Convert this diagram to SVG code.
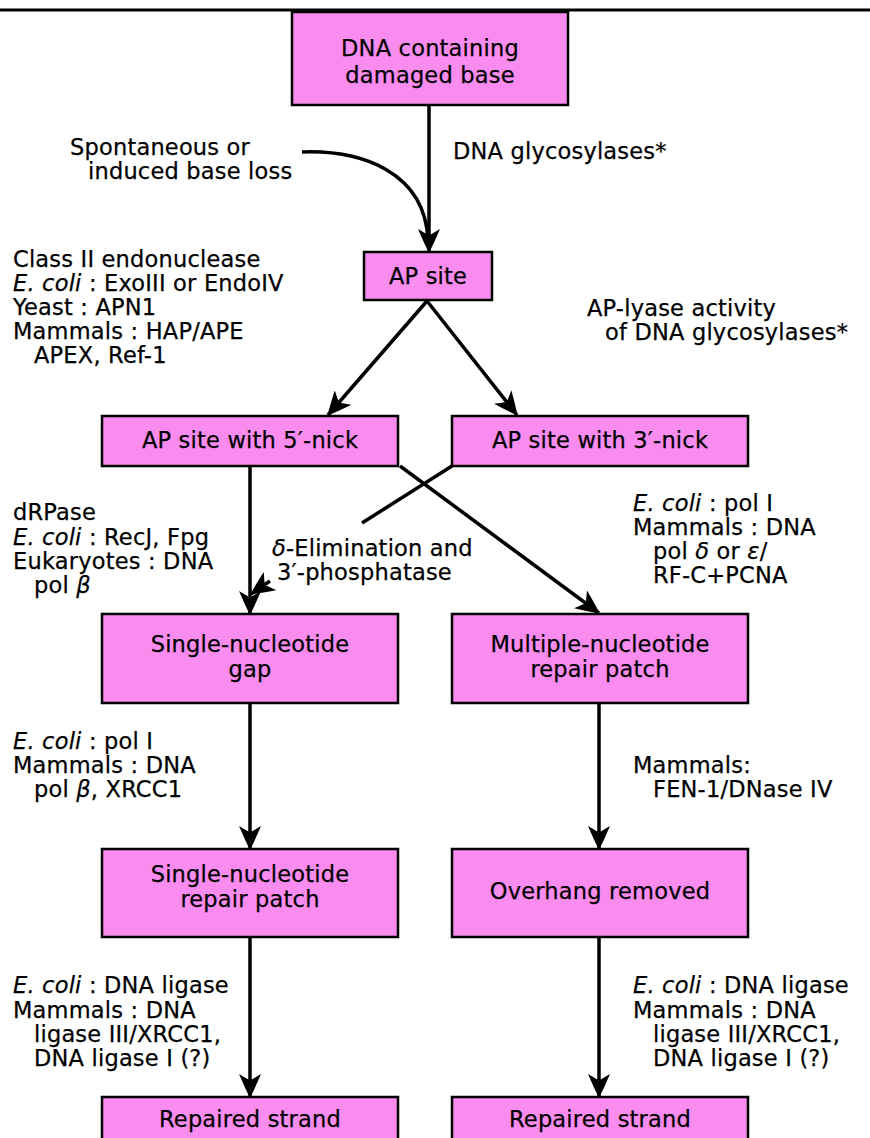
<svg xmlns="http://www.w3.org/2000/svg" width="870" height="1138" viewBox="0 0 870 1138">
<defs>
<style>
.box{fill:#FA8CF0;stroke:#000;stroke-width:2.5}
.t{font-family:"DejaVu Sans","Liberation Sans",sans-serif;font-size:22.5px;letter-spacing:0.2px;fill:#000;stroke:#000;stroke-width:0.25}
.c{text-anchor:middle}
.i{font-style:italic}
.ln{fill:none;stroke:#000;stroke-width:3.5}
</style>
<marker id="ah" markerUnits="userSpaceOnUse" markerWidth="24" markerHeight="22" viewBox="0 0 24 22" refX="23" refY="11" orient="auto">
<path d="M24,11 Q13,5.5 0,0 L6.5,11 L0,22 Q13,16.5 24,11 Z" fill="#000"/>
</marker>
</defs>
<rect width="870" height="1138" fill="#fff"/>
<line x1="0" y1="10" x2="870" y2="10" stroke="#000" stroke-width="3"/>

<g id="connectors">
<path class="ln" d="M429,105 V252" marker-end="url(#ah)"/>
<path class="ln" d="M302,152 C362,150 425,172 428,240"/>
<path class="ln" d="M427,301 L328,415" marker-end="url(#ah)"/>
<path class="ln" d="M427,301 L517,415" marker-end="url(#ah)"/>
<path class="ln" d="M250,466 V614" marker-end="url(#ah)"/>
<path class="ln" d="M400,466 L599,613" marker-end="url(#ah)"/>
<path class="ln" d="M452,466 L362,523"/>
<path class="ln" d="M270,581 L251,594" marker-end="url(#ah)"/>
<path class="ln" d="M250,703 V849" marker-end="url(#ah)"/>
<path class="ln" d="M599,703 V849" marker-end="url(#ah)"/>
<path class="ln" d="M250,937 V1097" marker-end="url(#ah)"/>
<path class="ln" d="M599,937 V1097" marker-end="url(#ah)"/>
</g>

<g id="n-damaged">
<rect class="box" x="292" y="12" width="276" height="93"/>
<text class="t c" x="430" y="56">DNA containing</text>
<text class="t c" x="430" y="83">damaged base</text>
</g>
<g id="n-apsite">
<rect class="box" x="364" y="252" width="128" height="48"/>
<text class="t c" x="428" y="284">AP site</text>
</g>
<g id="n-ap5">
<rect class="box" x="102" y="416" width="296" height="50"/>
<text class="t c" x="250" y="448">AP site with 5′-nick</text>
</g>
<g id="n-ap3">
<rect class="box" x="452" y="416" width="296" height="50"/>
<text class="t c" x="600" y="448">AP site with 3′-nick</text>
</g>
<g id="n-gap">
<rect class="box" x="102" y="614" width="296" height="89"/>
<text class="t c" x="250" y="652">Single-nucleotide</text>
<text class="t c" x="250" y="677">gap</text>
</g>
<g id="n-multi">
<rect class="box" x="452" y="614" width="296" height="89"/>
<text class="t c" x="600" y="652">Multiple-nucleotide</text>
<text class="t c" x="600" y="677">repair patch</text>
</g>
<g id="n-single-patch">
<rect class="box" x="102" y="849" width="296" height="88"/>
<text class="t c" x="250" y="882">Single-nucleotide</text>
<text class="t c" x="250" y="907">repair patch</text>
</g>
<g id="n-overhang">
<rect class="box" x="452" y="849" width="296" height="88"/>
<text class="t c" x="600" y="899">Overhang removed</text>
</g>
<g id="n-repaired-left">
<rect class="box" x="102" y="1097" width="296" height="60"/>
<text class="t c" x="250" y="1127">Repaired strand</text>
</g>
<g id="n-repaired-right">
<rect class="box" x="452" y="1097" width="296" height="60"/>
<text class="t c" x="600" y="1127">Repaired strand</text>
</g>

<g id="labels">
<text class="t" x="70" y="155">Spontaneous or</text>
<text class="t" x="88" y="179">induced base loss</text>
<text class="t" x="453" y="159">DNA glycosylases*</text>

<text class="t" x="13" y="267">Class II endonuclease</text>
<text class="t" x="13" y="291"><tspan class="i">E. coli</tspan> : ExoIII or EndoIV</text>
<text class="t" x="13" y="315">Yeast : APN1</text>
<text class="t" x="13" y="339">Mammals : HAP/APE</text>
<text class="t" x="34" y="363">APEX, Ref-1</text>

<text class="t" x="587" y="316">AP-lyase activity</text>
<text class="t" x="605" y="340">of DNA glycosylases*</text>

<text class="t" x="13" y="520">dRPase</text>
<text class="t" x="13" y="545"><tspan class="i">E. coli</tspan> : RecJ, Fpg</text>
<text class="t" x="13" y="569">Eukaryotes : DNA</text>
<text class="t" x="34" y="593">pol <tspan class="i">β</tspan></text>

<text class="t" x="272" y="556"><tspan class="i">δ</tspan>-Elimination and</text>
<text class="t" x="277" y="580">3′-phosphatase</text>

<text class="t" x="633" y="511"><tspan class="i">E. coli</tspan> : pol I</text>
<text class="t" x="633" y="535">Mammals : DNA</text>
<text class="t" x="653" y="559">pol <tspan class="i">δ</tspan> or <tspan class="i">ε</tspan>/</text>
<text class="t" x="653" y="583">RF-C+PCNA</text>

<text class="t" x="13" y="749"><tspan class="i">E. coli</tspan> : pol I</text>
<text class="t" x="13" y="773">Mammals : DNA</text>
<text class="t" x="34" y="797">pol <tspan class="i">β</tspan>, XRCC1</text>

<text class="t" x="633" y="773">Mammals:</text>
<text class="t" x="653" y="797">FEN-1/DNase IV</text>

<text class="t" x="13" y="993"><tspan class="i">E. coli</tspan> : DNA ligase</text>
<text class="t" x="13" y="1018">Mammals : DNA</text>
<text class="t" x="34" y="1042">ligase III/XRCC1,</text>
<text class="t" x="34" y="1066">DNA ligase I (?)</text>

<text class="t" x="633" y="993"><tspan class="i">E. coli</tspan> : DNA ligase</text>
<text class="t" x="633" y="1018">Mammals : DNA</text>
<text class="t" x="653" y="1042">ligase III/XRCC1,</text>
<text class="t" x="653" y="1066">DNA ligase I (?)</text>
</g>
</svg>
